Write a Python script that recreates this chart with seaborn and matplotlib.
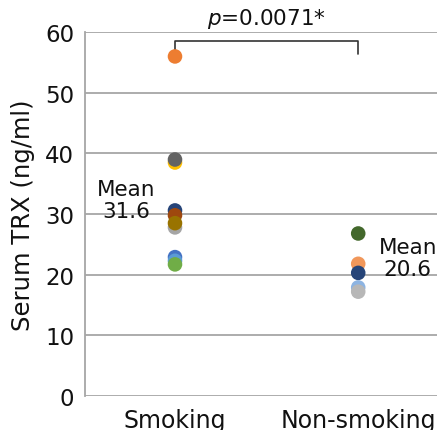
import numpy as np
import pandas as pd
import matplotlib
matplotlib.use("Agg")
import matplotlib.pyplot as plt
import seaborn as sns

# data (listed in drawing order)
groups = ["Smoking", "Non-smoking"]
smoking_vals = [22.9, 56.0, 27.8, 38.5, 22.3, 21.7, 30.6, 29.8, 39.0, 28.5]
smoking_colors = ["#4472C4", "#ED7D31", "#A5A5A5", "#FFC000", "#5B9BD5",
                  "#70AD47", "#264478", "#9E480E", "#636363", "#997300"]
nonsmoking_vals = [26.8, 21.8, 20.3, 17.9, 17.2]
nonsmoking_colors = ["#43682C", "#F1975A", "#264478", "#8DB4E2", "#B7B7B7"]
means = [31.6, 20.6]
p_text = "$p$=0.0071*"

df = pd.DataFrame({
    "group": [groups[0]] * len(smoking_vals) + [groups[1]] * len(nonsmoking_vals),
    "value": smoking_vals + nonsmoking_vals,
})
df["id"] = [str(i) for i in range(len(df))]
palette = dict(zip(df["id"], smoking_colors + nonsmoking_colors))

sns.set_style("white")
plt.rcParams["font.family"] = ["DejaVu Sans"]

fig = plt.figure(figsize=(4.37, 4.31), dpi=100)
ax = fig.add_axes([0.195, 0.079, 0.805, 0.844])

sns.scatterplot(data=df, x="group", y="value", hue="id", palette=palette,
                s=110, linewidth=0, legend=False, ax=ax, zorder=3)

ax.set_ylim(0, 60)
ax.set_xlim(-0.49, 1.43)
ax.set_yticks(range(0, 61, 10))
ax.yaxis.grid(True, color="#a6a6a6", linewidth=1.3)
ax.set_axisbelow(True)
for side in ["top", "right", "bottom"]:
    ax.spines[side].set_visible(False)
ax.spines["left"].set_color("#a6a6a6")
ax.spines["left"].set_linewidth(1.3)
ax.tick_params(axis="y", length=0, labelsize=16.5, colors="#111111", pad=8)
ax.tick_params(axis="x", length=0, labelsize=17, colors="#111111", pad=9)
ax.set_xlabel("")
ax.set_ylabel("Serum TRX (ng/ml)", fontsize=17.5, labelpad=7, color="#111111")

# mean labels
ax.text(-0.265, 32.3, f"Mean\n{means[0]}", ha="center", va="center",
        fontsize=15.5, color="#111111", linespacing=1.15)
ax.text(1.27, 22.8, f"Mean\n{means[1]}", ha="center", va="center",
        fontsize=15.5, color="#111111", linespacing=1.15)

# significance bracket
ax.plot([0, 0, 1, 1], [56.7, 58.6, 58.6, 56.4], color="#333333", lw=1.2,
        clip_on=False)
ax.text(0.5, 60.3, p_text, ha="center", va="bottom", fontsize=15.5,
        color="#111111")

fig.savefig("out.png", dpi=100)
